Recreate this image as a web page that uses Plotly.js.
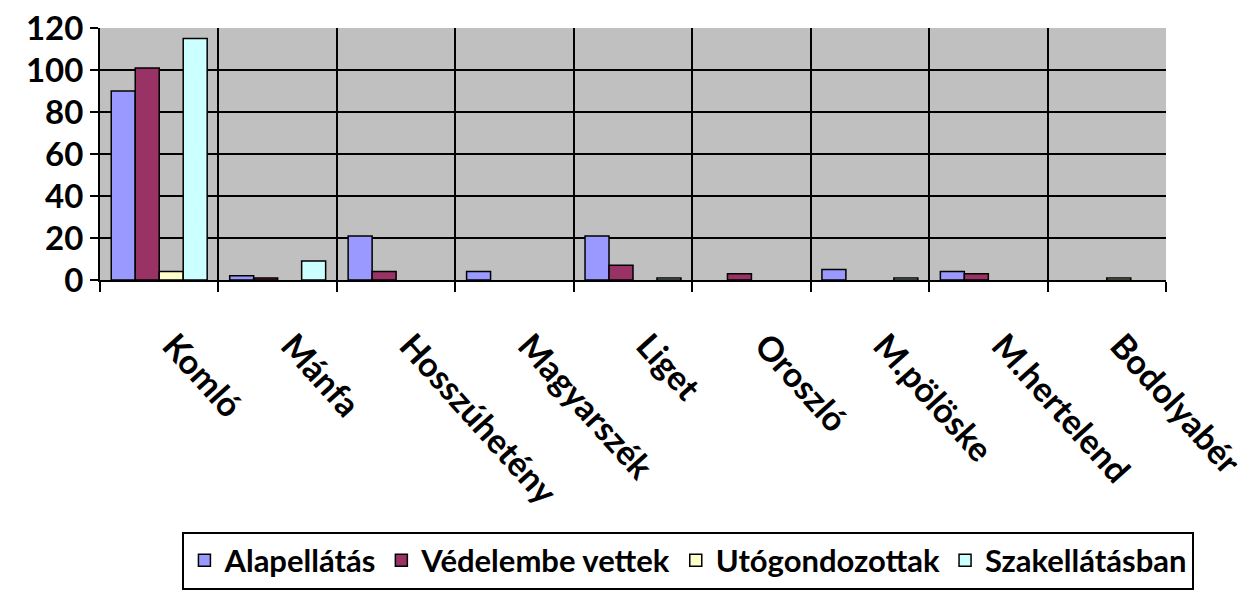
<!DOCTYPE html>
<html>
<head>
<meta charset="utf-8">
<script src="https://cdn.plot.ly/plotly-3.0.1.min.js"></script>
<style>html,body{margin:0;padding:0;background:#fff;}#chart{width:1254px;height:592px;}</style>
</head>
<body>
<div id="chart"></div>
<script>
const categories = ["Komló", "Mánfa", "Hosszúhetény", "Magyarszék", "Liget", "Oroszló", "M.pölöske", "M.hertelend", "Bodolyabér"];
const alapellatas = [90, 2, 21, 4, 21, 0, 5, 4, 0];
const vedelembe = [101, 1, 4, 0, 7, 3, 0, 3, 0];
const utogondozottak = [4, 0, 0, 0, 0, 0, 0, 0, 1];
const szakellatasban = [115, 9, 0, 0, 1, 0, 1, 0, 0];
const seriesNames = ["Alapellátás", "Védelembe vettek", "Utógondozottak", "Szakellátásban"];
const yTicks = [0, 20, 40, 60, 80, 100, 120];

const colors = ["#9999FF", "#993366", "#FFFFCC", "#CCFFFF"];
const data = [alapellatas, vedelembe, utogondozottak, szakellatasban].map((vals, i) => ({
  type: "bar",
  name: seriesNames[i],
  x: categories,
  y: vals,
  marker: {color: colors[i], line: {color: "#000", width: vals.map(v => v === 0 ? 0 : 1.5)}},
  hoverinfo: "x+y+name"
}));

const fam = "Lato, Open Sans, sans-serif";

const layout = {
  width: 1254, height: 592,
  margin: {l: 100, r: 88, t: 28, b: 312, pad: 0, autoexpand: false},
  paper_bgcolor: "#fff",
  plot_bgcolor: "#C0C0C0",
  barmode: "group",
  bargap: 0.19,
  bargroupgap: 0,
  font: {family: fam, size: 28, color: "#000", weight: 700},
  xaxis: {
    type: "category",
    tickson: "boundaries",
    showgrid: true, gridcolor: "#000", gridwidth: 2,
    showline: true, linecolor: "#000", linewidth: 2,
    ticks: "outside", ticklen: 10, tickwidth: 2, tickcolor: "#000",
    tickangle: 48,
    ticklabelstandoff: 30,
    ticklabelshift: 14,
    tickfont: {family: fam, size: 34, color: "#000", weight: 700},
    range: [-0.5, 8.5],
    zeroline: false,
    automargin: false
  },
  yaxis: {
    range: [0, 120],
    tickvals: yTicks,
    ticktext: yTicks.map(String),
    showgrid: true, gridcolor: "#000", gridwidth: 2,
    showline: true, linecolor: "#000", linewidth: 2,
    ticks: "outside", ticklen: 8, tickwidth: 2, tickcolor: "#000",
    tickfont: {family: fam, size: 33, color: "#000", weight: 700},
    zeroline: false,
    automargin: false
  },
  legend: {
    orientation: "h",
    xref: "paper",
    x: 0.552, xanchor: "center",
    yref: "container",
    y: 0.004, yanchor: "bottom",
    bordercolor: "#000", borderwidth: 2,
    bgcolor: "#fff",
    font: {family: fam, size: 31, color: "#000", weight: 700},
    itemwidth: 30,
    tracegroupgap: 0
  },
  showlegend: true
};

Plotly.newPlot("chart", data, layout, {displayModeBar: false, staticPlot: true});
</script>
</body>
</html>
